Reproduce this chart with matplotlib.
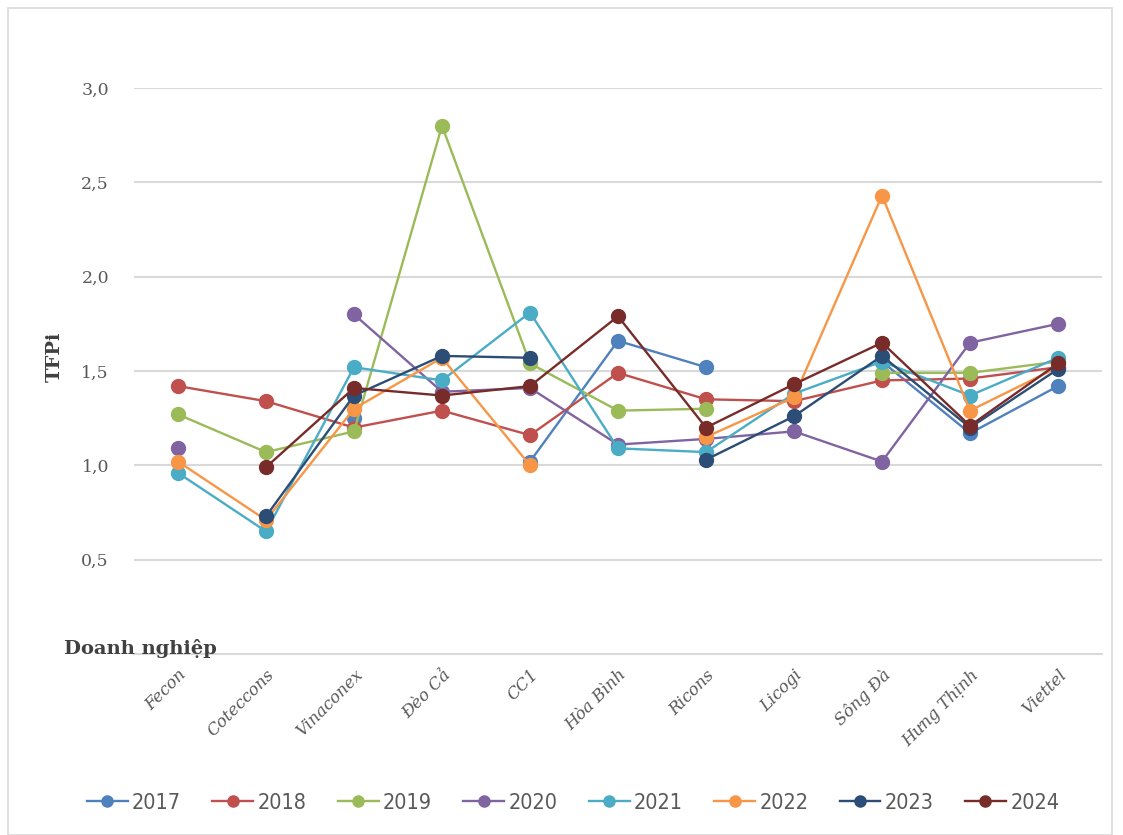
import numpy as np
import matplotlib
matplotlib.use("Agg")
import matplotlib.pyplot as plt
from matplotlib.patches import Rectangle

nan = np.nan
categories = ["Fecon", "Coteccons", "Vinaconex", "Đèo Cả", "CC1", "Hòa Bình",
              "Ricons", "Licogi", "Sông Đà", "Hưng Thịnh", "Viettel"]
years = ["2017", "2018", "2019", "2020", "2021", "2022", "2023", "2024"]

s2017 = [nan, nan, 1.25, nan, 1.02, 1.66, 1.52, nan, 1.55, 1.17, 1.42]
s2018 = [1.42, 1.34, 1.20, 1.29, 1.16, 1.49, 1.35, 1.34, 1.45, 1.46, 1.52]
s2019 = [1.27, 1.07, 1.18, 2.80, 1.54, 1.29, 1.30, nan, 1.49, 1.49, 1.55]
s2020 = [1.09, nan, 1.80, 1.39, 1.41, 1.11, 1.14, 1.18, 1.02, 1.65, 1.75]
s2021 = [0.96, 0.65, 1.52, 1.45, 1.81, 1.09, 1.07, 1.38, 1.55, 1.37, 1.57]
s2022 = [1.02, 0.71, 1.30, 1.57, 1.00, nan, 1.15, 1.36, 2.43, 1.29, 1.52]
s2023 = [nan, 0.73, 1.37, 1.58, 1.57, nan, 1.03, 1.26, 1.58, 1.20, 1.51]
s2024 = [nan, 0.99, 1.41, 1.37, 1.42, 1.79, 1.20, 1.43, 1.65, 1.21, 1.54]
series = [s2017, s2018, s2019, s2020, s2021, s2022, s2023, s2024]

colors = ["#4F81BD", "#C0504D", "#9BBB59", "#8064A2", "#4BACC6", "#F79646",
          "#2C4D75", "#772C2A"]

yticks = [0.5, 1.0, 1.5, 2.0, 2.5, 3.0]
ytick_labels = ["0,5", "1,0", "1,5", "2,0", "2,5", "3,0"]

serif = ["DejaVu Serif"]

fig = plt.figure(figsize=(11.23, 8.35), dpi=100)
ax = fig.add_axes([134/1123, 1-654/835, (1102-134)/1123, (654-88)/835])

x = np.arange(len(categories))
for s, c, lab in zip(series, colors, years):
    ax.plot(x, s, color=c, lw=1.7, marker="o", ms=10, label=lab, zorder=3)

ax.set_xlim(-0.5, len(categories) - 0.5)
ax.set_ylim(0, 3.0)
ax.set_yticks(yticks)
ax.set_yticklabels(ytick_labels, family=serif, fontsize=12.5, color="#595959")
ax.yaxis.grid(True, color="#D9D9D9", lw=1.5)
ax.set_axisbelow(True)
for sp in ["top", "right", "left"]:
    ax.spines[sp].set_visible(False)
ax.spines["bottom"].set_color("#D9D9D9")
ax.spines["bottom"].set_linewidth(1.5)
ax.tick_params(axis="both", length=0)
ax.tick_params(axis="y", pad=18)

ax.set_xticks(x)
ax.set_xticklabels(categories, rotation=45, ha="right", rotation_mode="anchor",
                   family=serif, style="italic", fontsize=12, color="#595959")
ax.tick_params(axis="x", pad=9)

fig.text(55/1123, 1-357/835, "TFPi", rotation=90, ha="center", va="center",
         family=serif, fontweight="bold", fontsize=14, color="#404040")
fig.text(64/1123, 1-648/835, "Doanh nghiệp", ha="left", va="center",
         family=serif, fontweight="bold", fontsize=14, color="#404040")

leg = fig.legend(loc="center", bbox_to_anchor=(573/1123, 1-803/835), ncol=8,
                 frameon=False, handlelength=1.9, handletextpad=0.2,
                 columnspacing=1.45, markerscale=0.8,
                 prop={"family": "DejaVu Sans", "stretch": "condensed", "size": 15.5})
for t in leg.get_texts():
    t.set_color("#595959")

fig.patches.append(Rectangle((8/1123, 0), 1104/1123, 827/835, transform=fig.transFigure,
                             fill=False, edgecolor="#D9D9D9", lw=1.2))

fig.savefig("out.png", dpi=100, facecolor="white")
